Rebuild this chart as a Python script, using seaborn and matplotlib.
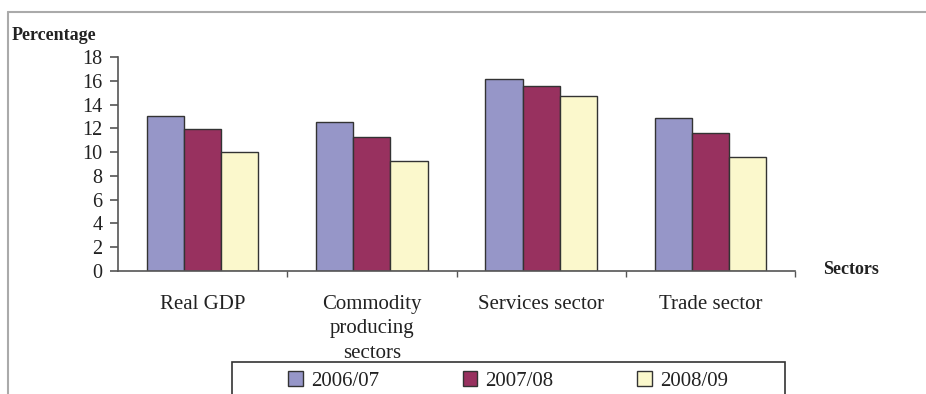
import matplotlib
matplotlib.use("Agg")
import matplotlib.pyplot as plt
import seaborn as sns
import pandas as pd
from matplotlib.patches import Patch, Rectangle
from matplotlib.lines import Line2D

categories = ["Real GDP", "Commodity\nproducing\nsectors", "Services sector", "Trade sector"]
years = ["2006/07", "2007/08", "2008/09"]
v_2006_07 = [13.0, 12.5, 16.15, 12.85]
v_2007_08 = [11.95, 11.3, 15.6, 11.6]
v_2008_09 = [10.0, 9.25, 14.75, 9.6]
yticks = [0, 2, 4, 6, 8, 10, 12, 14, 16, 18]

colors = ["#9696C8", "#98315F", "#FBF8CC"]

rows = []
for yr, vals in zip(years, [v_2006_07, v_2007_08, v_2008_09]):
    for c, v in zip(categories, vals):
        rows.append({"Sector": c, "Year": yr, "Value": v})
df = pd.DataFrame(rows)

sns.set_style("white")
plt.rcParams["font.family"] = ["Liberation Serif", "DejaVu Serif"]

fig = plt.figure(figsize=(9.26, 3.94), dpi=100)
ax = fig.add_axes([118/926, 1-271/394, (795-118)/926, (271-57)/394])

sns.barplot(data=df, x="Sector", y="Value", hue="Year", hue_order=years,
            order=categories, palette=colors, width=0.66, gap=0,
            edgecolor="#333333", linewidth=1.0, saturation=1, ax=ax, legend=False)

ax.set_ylim(0, 18)
ax.set_xlim(-0.5, 3.5)
ax.set_yticks(yticks)
ax.set_yticklabels([str(t) for t in yticks], fontsize=14.5, color="#222222")
ax.set_xlabel("")
ax.set_ylabel("")
for s in ["top", "right"]:
    ax.spines[s].set_visible(False)
for s in ["left", "bottom"]:
    ax.spines[s].set_color("#555555")
    ax.spines[s].set_linewidth(1.2)
ax.tick_params(axis="y", direction="out", length=6, width=1.2, color="#555555", pad=5, left=True)
ax.tick_params(axis="x", which="major", length=0, pad=17, labelsize=15, labelcolor="#222222")
ax.set_xticks([0.5, 1.5, 2.5, 3.5], minor=True)
ax.tick_params(axis="x", which="minor", direction="out", length=4, width=1, color="#555555", bottom=True)
for lbl in ax.get_xticklabels():
    lbl.set_linespacing(1.42)
ax.grid(False)

fig.text(12/926, 1-36/394, "Percentage", fontsize=13, fontweight="bold", va="center", ha="left", color="#222222")
fig.text(823/926, 1-270/394, "Sectors", fontsize=13, fontweight="bold", va="center", ha="left", color="#222222")

# outer frame
fig.add_artist(Line2D([8/926, 8/926], [0, 1-12/394], transform=fig.transFigure, color="#aaaaaa", lw=1.5))
fig.add_artist(Line2D([8/926, 1], [1-12/394, 1-12/394], transform=fig.transFigure, color="#aaaaaa", lw=1.5))

# legend box
box = Rectangle((232/926, -0.05), (785-232)/926, 1-362/394+0.05, transform=fig.transFigure,
                facecolor="white", edgecolor="#333333", linewidth=1.2, zorder=9)
fig.add_artist(box)

handles = [Patch(facecolor=c, edgecolor="#333333", linewidth=1.0) for c in colors]
leg = fig.legend(handles, years, loc="center", ncol=3,
                 bbox_to_anchor=(508/926, 1-381/394),
                 frameon=False, fontsize=15,
                 handlelength=0.7, handleheight=0.7, handletextpad=0.4,
                 borderpad=0, borderaxespad=0, columnspacing=4.0)
for t in leg.get_texts():
    t.set_color("#222222")
leg.set_zorder(10)

fig.savefig("out.png", dpi=100, facecolor="white")
